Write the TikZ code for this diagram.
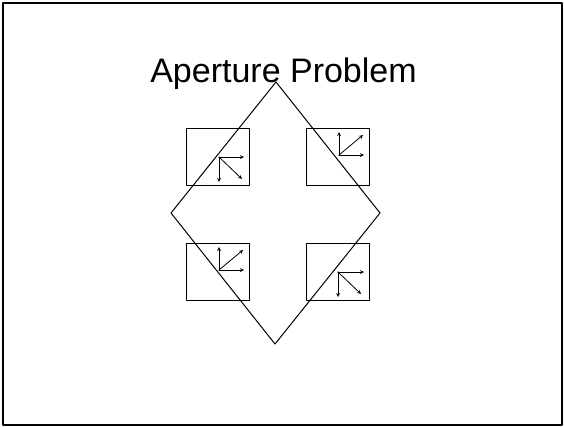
\documentclass[tikz,border=0pt]{standalone}
\usepackage{fontspec}
\setmainfont{Liberation Sans}
\begin{document}
\begin{tikzpicture}[x=1pt,y=-1pt,>=stealth, line join=round, line cap=round,
	win/.style={draw, line width=1pt, minimum width=63pt, minimum height=57pt, inner sep=0pt},
	vec/.style={->, line width=0.8pt}]
	\useasboundingbox (0,0) rectangle (564,426);
	\draw[line width=2pt] (3,3) rectangle (562,425); % Khung
	\node[anchor=base, font=\fontsize{34}{40}\selectfont] (title) at (283.5,82) {Aperture Problem};
	% Hình thoi
	\coordinate (N) at (276,82); \coordinate (W) at (171,213);
	\coordinate (E) at (380,213); \coordinate (S) at (275,344);
	\draw[line width=1pt] (N)--(E)--(S)--(W)--cycle;
	% Cửa sổ
	\node[win] (tl) at (217.5,156.5) {};
	\node[win] (tr) at (337.5,156.5) {};
	\node[win] (bl) at (217.5,271.5) {};
	\node[win] (br) at (337.5,271.5) {};
	% Vectơ
	\coordinate (o1) at (219,157); \coordinate (o2) at (339,155);
	\coordinate (o3) at (219,270); \coordinate (o4) at (338,272);
	\draw[vec] (o1)--++(25,0); \draw[vec] (o1)--++(0,25); \draw[vec] (o1)--++(23,22);
	\draw[vec] (o2)--++(25,0); \draw[vec] (o2)--++(0,-23); \draw[vec] (o2)--++(24,-20);
	\draw[vec] (o3)--++(25,0); \draw[vec] (o3)--++(0,-23); \draw[vec] (o3)--++(24,-20);
	\draw[vec] (o4)--++(26,0); \draw[vec] (o4)--++(0,25); \draw[vec] (o4)--++(23,22);
\end{tikzpicture}
\end{document}
